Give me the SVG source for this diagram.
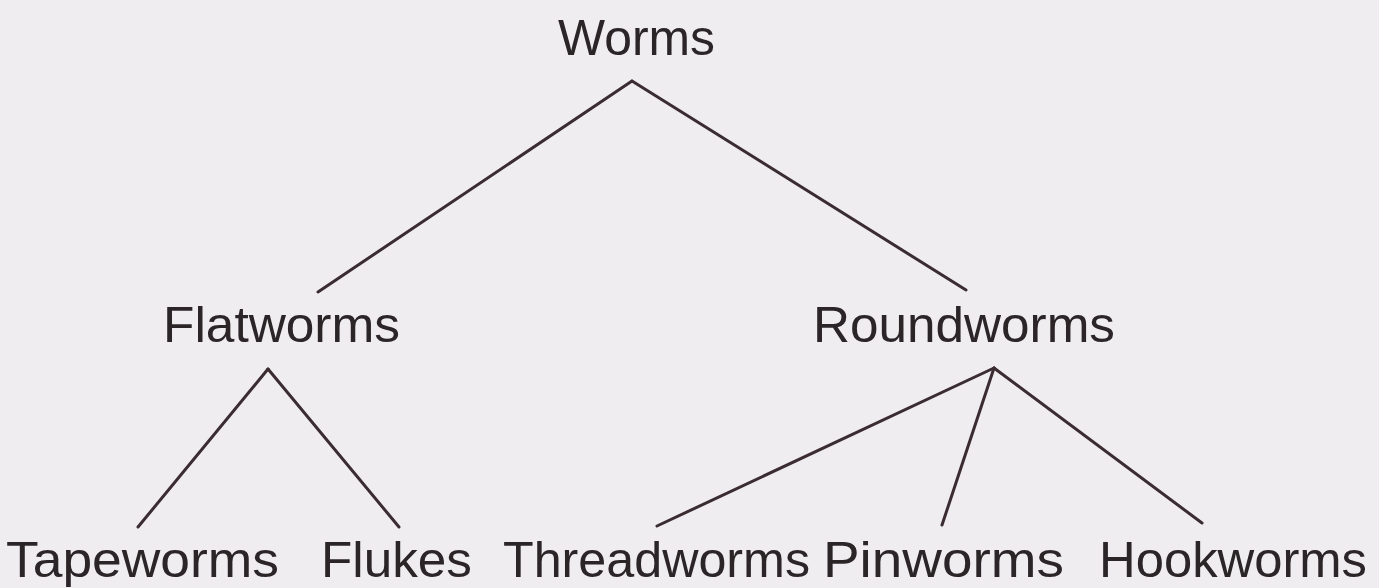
<svg xmlns="http://www.w3.org/2000/svg" width="1379" height="588" viewBox="0 0 1379 588">
<style>
.lbl{font-family:"Liberation Sans",Arial,sans-serif;font-size:50px;fill:#2b2528}
.edge{stroke:#3a2c30;stroke-width:3;stroke-linecap:round;fill:none}
</style>
<rect width="1379" height="588" fill="#efedef"/>
<g id="connectors">
<line class="edge" x1="632" y1="81" x2="318" y2="292"/>
<line class="edge" x1="632" y1="81" x2="966" y2="290"/>
<line class="edge" x1="268" y1="369" x2="138" y2="527"/>
<line class="edge" x1="268" y1="369" x2="399" y2="527"/>
<line class="edge" x1="994" y1="368" x2="657" y2="526"/>
<line class="edge" x1="994" y1="368" x2="942" y2="525"/>
<line class="edge" x1="994" y1="368" x2="1202" y2="523"/>
</g>
<g id="worms"><text class="lbl" x="558" y="55" textLength="157" lengthAdjust="spacingAndGlyphs">Worms</text></g>
<g id="flatworms"><text class="lbl" x="163" y="342" textLength="237" lengthAdjust="spacingAndGlyphs">Flatworms</text></g>
<g id="roundworms"><text class="lbl" x="813" y="342" textLength="302" lengthAdjust="spacingAndGlyphs">Roundworms</text></g>
<g id="tapeworms"><text class="lbl" x="6" y="577" textLength="273" lengthAdjust="spacingAndGlyphs">Tapeworms</text></g>
<g id="flukes"><text class="lbl" x="321" y="577" textLength="151" lengthAdjust="spacingAndGlyphs">Flukes</text></g>
<g id="threadworms"><text class="lbl" x="503" y="577" textLength="307" lengthAdjust="spacingAndGlyphs">Threadworms</text></g>
<g id="pinworms"><text class="lbl" x="823" y="577" textLength="241" lengthAdjust="spacingAndGlyphs">Pinworms</text></g>
<g id="hookworms"><text class="lbl" x="1099" y="577" textLength="268" lengthAdjust="spacingAndGlyphs">Hookworms</text></g>
</svg>
